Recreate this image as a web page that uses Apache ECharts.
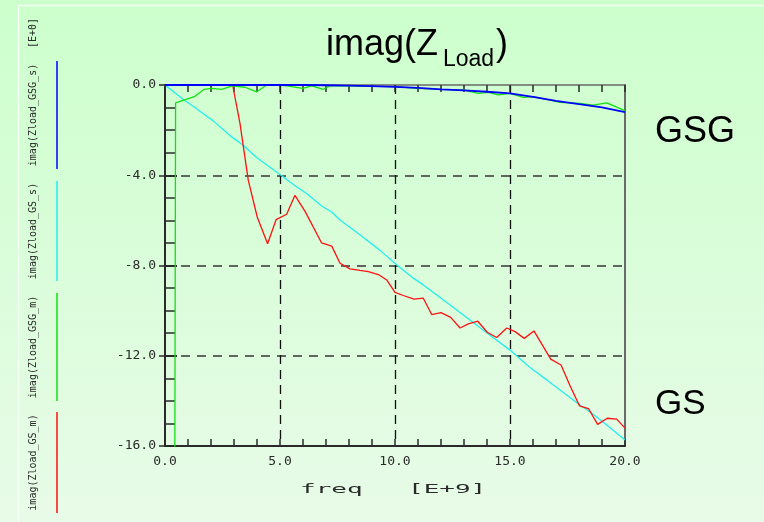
<!DOCTYPE html>
<html>
<head>
<meta charset="utf-8">
<script src="https://cdn.jsdelivr.net/npm/echarts@6/dist/echarts.min.js"></script>
<style>
  html, body { margin: 0; padding: 0; }
  #chart { width: 764px; height: 522px; }
</style>
</head>
<body>
<div id="chart"></div>
<script>
// imag(Z_Load) versus frequency for the GS and GSG structures (measured / simulated)

// x-axis ticks (GHz) and y-axis ticks
const freqTicks = [0, 5, 10, 15, 20];
const imagTicks = [-16, -12, -8, -4, 0];
const freqMinorStep = 1;
const imagMinorStep = 1;

// imag(Zload_GSG_s) — simulated GSG
const gsgSFreq = [0, 1, 2, 3, 4, 5, 6, 7, 8, 9, 10, 11, 12, 13, 14, 15, 16, 17, 18, 19, 20];
const gsgSImag = [0, 0, 0, 0, 0, 0, 0, -0.01, -0.03, -0.05, -0.08, -0.13, -0.19, -0.24, -0.3, -0.37, -0.53, -0.7, -0.85, -0.99, -1.2];

// imag(Zload_GS_s) — simulated GS
const gsSFreq = [0, 0.8, 1.3, 1.74, 2.1, 2.9, 3.4, 3.98, 5.0, 5.73, 6.16, 6.81, 7.25, 7.6, 8.5, 9.35, 10.03, 10.8, 11.23, 12.5, 13.7, 15.0, 15.87, 16.6, 17.32, 18.04, 18.62, 19.3, 20.0];
const gsSImag = [0, -0.64, -1.0, -1.33, -1.59, -2.3, -2.67, -3.21, -3.97, -4.52, -4.81, -5.36, -5.63, -5.97, -6.66, -7.33, -7.93, -8.56, -8.86, -9.83, -10.76, -11.75, -12.52, -13.07, -13.63, -14.18, -14.59, -15.15, -15.73];

// imag(Zload_GSG_m) — measured GSG
const gsgMFreq = [0.42, 0.46, 1.28, 1.7, 2.03, 2.46, 2.94, 3.48, 3.99, 4.42, 4.9, 5.29, 5.99, 6.38, 6.88, 7.17, 8.04, 8.6, 9.2, 10.07, 10.94, 11.96, 12.97, 13.62, 14.06, 14.49, 15.0, 15.58, 16.01, 16.74, 17.17, 18.04, 18.62, 19.2, 20.0];
const gsgMImag = [-20, -0.79, -0.52, -0.19, -0.15, -0.19, -0.04, -0.1, -0.3, 0, 0, -0.04, -0.15, -0.04, -0.19, -0.04, -0.04, -0.05, -0.06, -0.07, -0.15, -0.19, -0.22, -0.37, -0.33, -0.44, -0.37, -0.55, -0.52, -0.67, -0.77, -0.81, -0.89, -0.79, -1.14];

// imag(Zload_GS_m) — measured GS
const gsMFreq = [2.94, 3.26, 3.62, 4.01, 4.46, 4.83, 5.29, 5.65, 6.09, 6.81, 7.25, 7.61, 8.04, 8.48, 8.84, 9.28, 9.64, 10.0, 10.36, 10.83, 11.23, 11.6, 12.0, 12.42, 12.83, 13.19, 13.6, 14.01, 14.42, 14.86, 15.22, 15.62, 16.04, 16.41, 16.77, 17.22, 17.61, 18.02, 18.41, 18.81, 19.23, 19.64, 20.0];
const gsMImag = [0, -1.7, -4.22, -5.85, -7.04, -5.97, -5.73, -4.89, -5.6, -7.0, -7.14, -7.9, -8.15, -8.22, -8.27, -8.4, -8.64, -9.19, -9.33, -9.49, -9.45, -10.18, -10.09, -10.3, -10.77, -10.59, -10.47, -10.96, -11.19, -10.77, -10.93, -11.23, -10.9, -11.53, -12.15, -12.41, -13.33, -14.22, -14.34, -15.04, -14.77, -14.81, -15.21];

const seriesNames = ['imag(Zload_GSG_s)', 'imag(Zload_GS_s)', 'imag(Zload_GSG_m)', 'imag(Zload_GS_m)'];
const seriesColors = ['#0000ff', '#22eeee', '#11e011', '#ff1111'];

const zip = (xs, ys) => xs.map((x, i) => [x, ys[i]]);

const MONO = '"DejaVu Sans Mono", "Liberation Mono", monospace';
const SANS = '"Liberation Sans", Arial, sans-serif';
const INK = '#2a2a2a';

const fmt = v => v.toFixed(1);

const X_MIN = freqTicks[0], X_MAX = freqTicks[freqTicks.length - 1];
const Y_MIN = imagTicks[0], Y_MAX = imagTicks[imagTicks.length - 1];

// tick-only axes (no line, no labels) used for the fine 1-unit tick marks
function tickAxis(kind, position, step, inside, length) {
  return {
    type: 'value', position: position,
    min: kind === 'x' ? X_MIN : Y_MIN, max: kind === 'x' ? X_MAX : Y_MAX, interval: step,
    axisLine: { show: false, onZero: false },
    axisTick: { show: true, inside: inside, length: length, lineStyle: { color: INK, width: 1.5 } },
    splitLine: { show: false }, axisLabel: { show: false }
  };
}

const chart = echarts.init(document.getElementById('chart'), null, { renderer: 'canvas' });

// vertical legend strip on the left: rotated label + coloured bar
const legendSpans = [[61, 169], [181, 281], [293, 401], [412, 513]];
const legendGraphics = [];
legendSpans.forEach((span, i) => {
  legendGraphics.push({
    type: 'line', silent: true,
    shape: { x1: 57, y1: span[0], x2: 57, y2: span[1] },
    style: { stroke: seriesColors[i], lineWidth: 1.5 }
  });
  legendGraphics.push({
    type: 'text', silent: true,
    x: 33, y: (span[0] + span[1]) / 2, rotation: Math.PI / 2,
    style: { text: seriesNames[i], font: '10px ' + MONO, fill: INK, align: 'center', verticalAlign: 'middle' }
  });
});

chart.setOption({
  animation: false,
  backgroundColor: {
    type: 'linear', x: 0, y: 0, x2: 0, y2: 1,
    colorStops: [{ offset: 0, color: '#ccffcc' }, { offset: 1, color: '#e8fbe8' }]
  },
  grid: { left: 165, right: 139, top: 85, bottom: 76, containLabel: false },
  xAxis: [
    {
      type: 'value', position: 'bottom',
      min: X_MIN, max: X_MAX, interval: freqTicks[1] - freqTicks[0],
      axisLine: { show: true, onZero: false, lineStyle: { color: INK, width: 2 } },
      axisTick: { show: false },
      splitLine: { show: true, showMinLine: false, showMaxLine: false, lineStyle: { color: '#111', width: 1.3, type: [9, 6] } },
      axisLabel: { show: true, margin: 9, color: INK, fontFamily: MONO, fontSize: 13, formatter: fmt }
    },
    {
      type: 'value', position: 'top',
      min: X_MIN, max: X_MAX, interval: freqTicks[1] - freqTicks[0],
      axisLine: { show: true, onZero: false, lineStyle: { color: '#6a6a6a', width: 1.5 } },
      axisTick: { show: false }, splitLine: { show: false }, axisLabel: { show: false }
    },
    tickAxis('x', 'bottom', freqMinorStep, true, 7),
    tickAxis('x', 'top', freqMinorStep, true, 7)
  ],
  yAxis: [
    {
      type: 'value', position: 'left',
      min: Y_MIN, max: Y_MAX, interval: imagTicks[1] - imagTicks[0],
      axisLine: { show: true, onZero: false, lineStyle: { color: INK, width: 2 } },
      axisTick: { show: true, inside: true, length: 12, lineStyle: { color: INK, width: 2 } },
      splitLine: { show: true, showMinLine: false, showMaxLine: false, lineStyle: { color: '#5f665f', width: 2, type: [9, 7] } },
      axisLabel: { show: true, margin: 9, color: INK, fontFamily: MONO, fontSize: 13, formatter: fmt }
    },
    {
      type: 'value', position: 'right',
      min: Y_MIN, max: Y_MAX, interval: imagTicks[1] - imagTicks[0],
      axisLine: { show: true, onZero: false, lineStyle: { color: '#6a6a6a', width: 2 } },
      axisTick: { show: false }, splitLine: { show: false }, axisLabel: { show: false }
    },
    tickAxis('y', 'left', imagMinorStep, true, 10),
    // short outward marks beside the labelled values
    tickAxis('y', 'left', imagTicks[1] - imagTicks[0], false, 6)
  ],
  series: [
    { name: seriesNames[1], type: 'line', data: zip(gsSFreq, gsSImag), showSymbol: false, clip: true,
      lineStyle: { color: seriesColors[1], width: 1.3 }, z: 3 },
    { name: seriesNames[3], type: 'line', data: zip(gsMFreq, gsMImag), showSymbol: false, clip: true,
      lineStyle: { color: seriesColors[3], width: 1.3 }, z: 4 },
    { name: seriesNames[2], type: 'line', data: zip(gsgMFreq, gsgMImag), showSymbol: false, clip: true,
      lineStyle: { color: seriesColors[2], width: 1.3 }, z: 5 },
    { name: seriesNames[0], type: 'line', data: zip(gsgSFreq, gsgSImag), showSymbol: false, clip: false,
      lineStyle: { color: seriesColors[0], width: 1.8 }, z: 6 }
  ],
  graphic: [
    // slide frame
    { type: 'line', silent: true, shape: { x1: 18.5, y1: 5.5, x2: 18.5, y2: 522 }, style: { stroke: '#f6fff6', lineWidth: 1.5 } },
    { type: 'line', silent: true, shape: { x1: 18.5, y1: 5.5, x2: 764, y2: 5.5 }, style: { stroke: '#f6fff6', lineWidth: 1.5 } },
    // y unit
    { type: 'text', silent: true, x: 33, y: 33, rotation: Math.PI / 2,
      style: { text: '[E+0]', font: '10px ' + MONO, fill: INK, align: 'center', verticalAlign: 'middle' } },
    ...legendGraphics,
    // title imag(Z_Load)
    { type: 'text', silent: true, x: 326, y: 45,
      style: { text: 'imag(Z', font: '36px ' + SANS, fill: '#000', align: 'left', verticalAlign: 'middle' } },
    { type: 'text', silent: true, x: 443, y: 60,
      style: { text: 'Load', font: '23px ' + SANS, fill: '#000', align: 'left', verticalAlign: 'middle' } },
    { type: 'text', silent: true, x: 496, y: 45,
      style: { text: ')', font: '36px ' + SANS, fill: '#000', align: 'left', verticalAlign: 'middle' } },
    // structure labels
    { type: 'text', silent: true, x: 655, y: 132,
      style: { text: 'GSG', font: '36px ' + SANS, fill: '#000', align: 'left', verticalAlign: 'middle' } },
    { type: 'text', silent: true, x: 655, y: 404,
      style: { text: 'GS', font: '35px ' + SANS, fill: '#000', align: 'left', verticalAlign: 'middle' } },
    // x-axis name
    { type: 'text', silent: true, x: 300, y: 490, scaleX: 2.0,
      style: { text: 'freq', font: '13px ' + MONO, fill: INK, align: 'left', verticalAlign: 'middle' } },
    { type: 'text', silent: true, x: 408, y: 490, scaleX: 2.0,
      style: { text: '[E+9]', font: '13px ' + MONO, fill: INK, align: 'left', verticalAlign: 'middle' } }
  ]
});
</script>
</body>
</html>
